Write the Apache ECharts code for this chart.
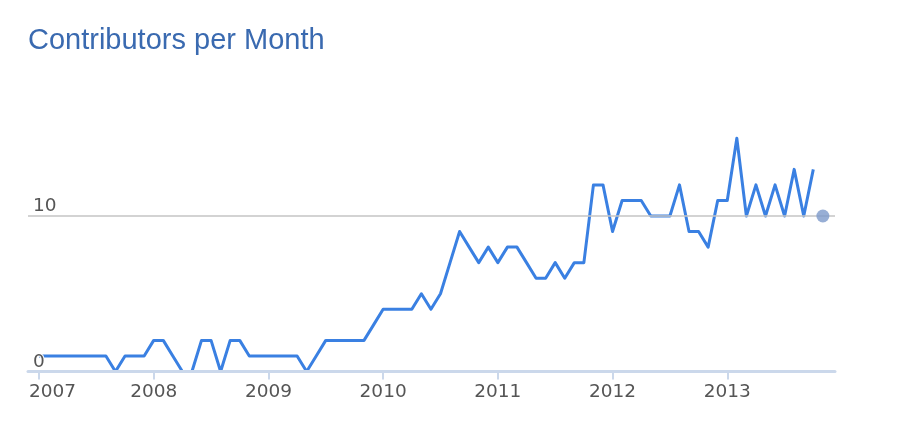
<!DOCTYPE html>
<html>
<head>
<meta charset="utf-8">
<script src="https://cdn.jsdelivr.net/npm/echarts@6/dist/echarts.min.js"></script>
<style>
html,body{margin:0;padding:0;background:#fff;}
#chart{width:900px;height:443px;}
</style>
</head>
<body>
<div id="chart"></div>
<script>
// ---- data (monthly contributor counts starting Jan 2007) ----
var titleText = 'Contributors per Month';
var startYear = 2007;
var contributors = [
  1,1,1,1,1,1,1,1,0,1,1,1,      // 2007
  2,2,1,0,0,2,2,0,2,2,1,1,      // 2008
  1,1,1,1,0,1,2,2,2,2,2,3,      // 2009
  4,4,4,4,5,4,5,7,9,8,7,8,      // 2010
  7,8,8,7,6,6,7,6,7,7,12,12,    // 2011
  9,11,11,11,10,10,10,12,9,9,8,11, // 2012
  11,15,10,12,10,12,10,13,10,13 // 2013 (Jan-Oct)
];
var currentMonthIndex = 82;   // Nov 2013 (partial month)
var currentMonthValue = 10;
var yearTicks = [2007, 2008, 2009, 2010, 2011, 2012, 2013];
var yTicks = [0, 10];

var lineData = contributors.map(function (v, i) { return [i, v]; });
var tickMonths = yearTicks.map(function (y) { return (y - startYear) * 12; });

var chart = echarts.init(document.getElementById('chart'), null, {renderer: 'canvas'});
var labelFont = '"DejaVu Sans", Verdana, sans-serif';
chart.setOption({
  animation: false,
  backgroundColor: '#ffffff',
  title: {
    text: titleText,
    left: 28,
    top: 26,
    padding: 0,
    textStyle: {
      fontFamily: '"Liberation Sans", Arial, Helvetica, sans-serif',
      fontSize: 29,
      fontWeight: 'normal',
      color: '#3a6ab0'
    }
  },
  grid: {left: 28, right: 65, top: 122.7, bottom: 71.5},
  xAxis: {
    type: 'value',
    min: -1.15,
    max: 83.27,
    z: 3,
    splitLine: {show: false},
    axisLine: {show: true, lineStyle: {color: '#cbd8eb', width: 3}},
    axisTick: {show: true, length: 8, customValues: tickMonths, lineStyle: {color: '#cbd8eb', width: 2}},
    axisLabel: {
      customValues: tickMonths,
      margin: 11,
      fontFamily: labelFont,
      fontSize: 18.5,
      color: '#555555',
      formatter: function (v) {
        var y = startYear + Math.round(v / 12);
        return v === 0 ? '{first|' + y + '}' : String(y);
      },
      rich: {
        first: {padding: [0, 0, 0, 27], fontFamily: labelFont, fontSize: 18.5, color: '#555555'}
      }
    }
  },
  yAxis: {
    type: 'value',
    min: 0,
    max: 16,
    z: 3,
    axisLine: {show: false},
    axisTick: {show: false, customValues: yTicks},
    splitLine: {show: true, lineStyle: {color: '#c4c4c4', width: 1.5}},
    axisLabel: {
      customValues: yTicks,
      inside: true,
      margin: 5,
      align: 'left',
      verticalAlign: 'bottom',
      fontFamily: labelFont,
      fontSize: 18.5,
      color: '#555555',
      textBorderColor: '#ffffff',
      textBorderWidth: 2,
      formatter: function (v) { return v === 0 ? '0' : String(v); }
    }
  },
  series: [
    {
      type: 'line',
      data: lineData,
      showSymbol: false,
      symbol: 'none',
      z: 2,
      lineStyle: {color: '#3a80e2', width: 3, join: 'round'}
    },
    {
      type: 'scatter',
      data: [[currentMonthIndex, currentMonthValue]],
      symbolSize: 13,
      z: 4,
      itemStyle: {color: '#7d9acb'}
    }
  ]
});
</script>
</body>
</html>
